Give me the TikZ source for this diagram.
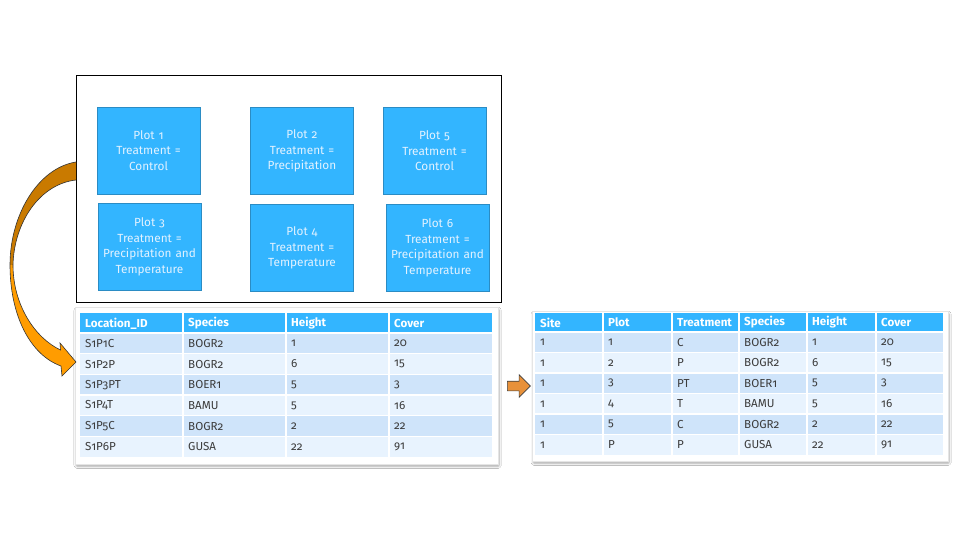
\documentclass[tikz,border=0pt]{standalone}
\usepackage{fontspec}
\setmainfont{Fira Sans}[Numbers=OldStyle]
\usetikzlibrary{shadows.blur,shapes.arrows}
\definecolor{skyb}{HTML}{33B5FF}
\definecolor{skyedge}{HTML}{2B8CC4}
\definecolor{plottxt}{HTML}{E2F2FF}
\definecolor{rowdark}{HTML}{CFE4FA}
\definecolor{rowlight}{HTML}{E8F3FE}
\definecolor{celltxt}{HTML}{3C3C3C}
\definecolor{ordark}{HTML}{C97A00}
\definecolor{orlight}{HTML}{FF9C00}
\definecolor{ormid}{HTML}{E8913A}
\tikzset{
  plotbox/.style={fill=skyb, draw=skyedge, line width=0.8pt, minimum width=103pt, minimum height=87pt,
    text width=100pt, align=center, text=plottxt, inner sep=0pt,
    font=\fontsize{11.8}{15.5}\selectfont},
  tframe/.style={fill=white, draw=black!10, line width=0.6pt, anchor=north west, inner sep=0pt,
    blur shadow={shadow blur steps=6, shadow xshift=0.8pt, shadow yshift=-2pt, shadow opacity=35, shadow blur extra rounding=1pt}},
  hdrtxt/.style={anchor=west, inner sep=0pt, text=white, font=\fontsize{11.6}{13}\selectfont\bfseries},
  celltx/.style={anchor=west, inner sep=0pt, text=celltxt, font=\fontsize{11.6}{13}\selectfont},
  sepline/.style={white, line width=1.3pt}
}
\begin{document}
\begin{tikzpicture}[x=1pt,y=-1pt]
\useasboundingbox (0,0) rectangle (960,540);
\fill[white] (0,0) rectangle (960,540);

% field box
\node[draw=black, line width=1pt, anchor=north west, minimum width=425pt, minimum height=227pt, inner sep=0pt] (field) at (76,75) {};
\node[plotbox] (p1) at (148.5,150.5) {Plot 1\\Treatment =\\Control};
\node[plotbox] (p2) at (302,151) {Plot 2\\Treatment =\\Precipitation};
\node[plotbox] (p5) at (434.5,151) {Plot 5\\Treatment =\\Control};
\node[plotbox] (p3) at (149.5,247) {Plot 3\\Treatment =\\Precipitation and\\Temperature};
\node[plotbox] (p4) at (302,248) {Plot 4\\Treatment =\\Temperature};
\node[plotbox] (p6) at (437.5,248) {Plot 6\\Treatment =\\Precipitation and\\Temperature};

% table 1
\node[tframe, minimum width=423pt, minimum height=157pt] (tab1) at (75,307) {};
\fill[skyb] (80,313) rectangle (492,333);
\foreach \r [evaluate=\r as \rc using {int(mod(\r,2))}] in {1,...,6}{
  \ifnum\rc=1 \def\rcol{rowdark}\else\def\rcol{rowlight}\fi
  \fill[\rcol] (80,{333+(\r-1)*20.7}) rectangle (492,{333+\r*20.7});
}
\foreach \x in {183,286,389} \draw[sepline] (\x,313) -- (\x,457.2);
\foreach \r in {0,...,5} \draw[sepline] (80,{333+\r*20.7}) -- (492,{333+\r*20.7});
\node[hdrtxt] (t1h1) at (85,323.5) {Location\_ID};
\node[hdrtxt] (t1h2) at (188,323.5) {Species};
\node[hdrtxt] (t1h3) at (291,323.5) {Height};
\node[hdrtxt] (t1h4) at (394,323.5) {Cover};
\foreach \r/\a/\b/\c/\d in {1/S1P1C/BOGR2/1/20, 2/S1P2P/BOGR2/6/15, 3/S1P3PT/BOER1/5/3,
   4/S1P4T/BAMU/5/16, 5/S1P5C/BOGR2/2/22, 6/S1P6P/GUSA/22/91}{
  \node[celltx] (t1r\r c1) at (85,{333+(\r-0.5)*20.7}) {\a};
  \node[celltx] (t1r\r c2) at (188,{333+(\r-0.5)*20.7}) {\b};
  \node[celltx] (t1r\r c3) at (291,{333+(\r-0.5)*20.7}) {\c};
  \node[celltx] (t1r\r c4) at (394,{333+(\r-0.5)*20.7}) {\d};
}

% table 2
\node[tframe, minimum width=416pt, minimum height=150pt] (tab2) at (532,311) {};
\fill[skyb] (535,313) rectangle (943,332);
\foreach \r [evaluate=\r as \rc using {int(mod(\r,2))}] in {1,...,6}{
  \ifnum\rc=1 \def\rcol{rowdark}\else\def\rcol{rowlight}\fi
  \fill[\rcol] (535,{332+(\r-1)*20.5}) rectangle (943,{332+\r*20.5});
}
\foreach \x in {603,672,739,807,876} \draw[sepline] (\x,313) -- (\x,455);
\foreach \r in {0,...,5} \draw[sepline] (535,{332+\r*20.5}) -- (943,{332+\r*20.5});
\node[hdrtxt] (t2h1) at (540,322.5) {Site};
\node[hdrtxt] (t2h2) at (608,322.5) {Plot};
\node[hdrtxt] (t2h3) at (677,322.5) {Treatment};
\node[hdrtxt] (t2h4) at (744,322.5) {Species};
\node[hdrtxt] (t2h5) at (812,322.5) {Height};
\node[hdrtxt] (t2h6) at (881,322.5) {Cover};
\foreach \r/\a/\b/\c/\d/\e/\f in {1/1/1/C/BOGR2/1/20, 2/1/2/P/BOGR2/6/15, 3/1/3/PT/BOER1/5/3,
   4/1/4/T/BAMU/5/16, 5/1/5/C/BOGR2/2/22, 6/1/P/P/GUSA/22/91}{
  \node[celltx] (t2r\r c1) at (540,{332+(\r-0.5)*20.5}) {\a};
  \node[celltx] (t2r\r c2) at (608,{332+(\r-0.5)*20.5}) {\b};
  \node[celltx] (t2r\r c3) at (677,{332+(\r-0.5)*20.5}) {\c};
  \node[celltx] (t2r\r c4) at (744,{332+(\r-0.5)*20.5}) {\d};
  \node[celltx] (t2r\r c5) at (812,{332+(\r-0.5)*20.5}) {\e};
  \node[celltx] (t2r\r c6) at (881,{332+(\r-0.5)*20.5}) {\f};
}

% small arrow between tables
\node[single arrow, fill=ormid, draw=black!75, line width=0.6pt, minimum height=23pt, minimum width=22pt,
  inner sep=4.5pt, single arrow head extend=6.5pt] (midarrow) at (516.5,386) {};

% curved arrow from field to table 1
\fill[ordark] (76,162) .. controls (38,168) and (10,215) .. (10,265) -- (13,265)
   .. controls (14,222) and (40,184) .. (76,180) -- cycle;
\fill[orlight] (10,265) .. controls (10,315) and (30,355) .. (61,366) -- (62,376) -- (76,362)
   -- (60,343) -- (60.5,350) .. controls (35,338) and (13,305) .. (13,265) -- cycle;
\draw[black!80, line width=0.6pt, line join=miter] (76,162) .. controls (38,168) and (10,215) .. (10,265)
   .. controls (10,315) and (30,355) .. (61,366) -- (62,376) -- (76,362)
   -- (60,343) -- (60.5,350) .. controls (35,338) and (13,305) .. (13,265)
   .. controls (14,222) and (40,184) .. (76,180);
\end{tikzpicture}
\end{document}
